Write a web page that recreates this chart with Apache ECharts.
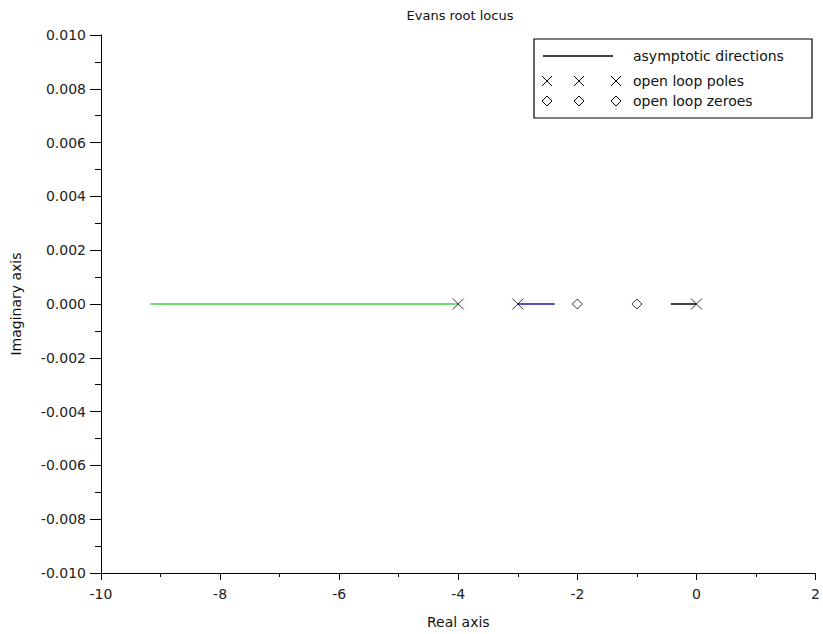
<!DOCTYPE html>
<html><head><meta charset="utf-8">
<script src="https://cdn.jsdelivr.net/npm/echarts@6/dist/echarts.min.js"></script>
<style>html,body{margin:0;padding:0;background:#fff}#c{width:823px;height:634px}</style>
</head><body><div id="c"></div>
<script>
// Data
const titleText = 'Evans root locus';
const xTicks = [-10, -8, -6, -4, -2, 0, 2];
const yTicks = [-0.010, -0.008, -0.006, -0.004, -0.002, 0.000, 0.002, 0.004, 0.006, 0.008, 0.010];
const branchGreen = [[-9.17, 0], [-4, 0]];
const branchBlue = [[-3, 0], [-2.38, 0]];
const branchBlack = [[-0.43, 0], [0, 0]];
const polesRe = [-4, -3, 0];
const polesIm = [0, 0, 0];
const zerosRe = [-2, -1];
const zerosIm = [0, 0];
const legendLabels = ['asymptotic directions', 'open loop poles', 'open loop zeroes'];

const FONT = 'DejaVu Sans';
const crossPath = 'path://M0,0L10,10M10,0L0,10';
const chart = echarts.init(document.getElementById('c'), null, {renderer: 'svg'});

const legendX = 534, legendY = 39, legendW = 278, legendH = 79;
const rowY = [56, 81, 101];
const markX = [547, 579, 616];
const graphics = [
  {type: 'rect', shape: {x: legendX, y: legendY, width: legendW, height: legendH},
   style: {fill: '#fff', stroke: '#000', lineWidth: 1.2}, z: 10},
  {type: 'line', shape: {x1: 543, y1: rowY[0], x2: 613, y2: rowY[0]}, style: {stroke: '#000', lineWidth: 1.5}, z: 11}
];
legendLabels.forEach((t, i) => {
  graphics.push({type: 'text', x: 633, y: rowY[i], z: 11,
    style: {text: t, font: '14px "' + FONT + '"', fill: '#111', verticalAlign: 'middle'}});
});
markX.forEach(x => {
  const y = rowY[1], d = 5;
  graphics.push({type: 'line', z: 11, shape: {x1: x - d, y1: y - d, x2: x + d, y2: y + d}, style: {stroke: '#000', lineWidth: 1}});
  graphics.push({type: 'line', z: 11, shape: {x1: x + d, y1: y - d, x2: x - d, y2: y + d}, style: {stroke: '#000', lineWidth: 1}});
  const y2 = rowY[2];
  graphics.push({type: 'polygon', z: 11, shape: {points: [[x - d, y2], [x, y2 - d], [x + d, y2], [x, y2 + d]]},
    style: {stroke: '#000', fill: '#fff', lineWidth: 1}});
});

const lineStyleAxis = {color: '#000', width: 1};

chart.setOption({
  animation: false,
  backgroundColor: '#fff',
  title: {text: titleText, left: 455, top: 4, textAlign: 'center',
    textStyle: {fontFamily: FONT, fontSize: 13, fontWeight: 'normal', color: '#111'}},
  grid: {left: 101, right: 2, top: 35, bottom: 56, containLabel: false},
  xAxis: {
    type: 'value', min: xTicks[0], max: xTicks[xTicks.length - 1], interval: 2,
    name: 'Real axis', nameLocation: 'middle', nameGap: 42,
    nameTextStyle: {fontFamily: FONT, fontSize: 14, color: '#111'},
    axisLine: {show: true, onZero: false, lineStyle: lineStyleAxis},
    axisTick: {show: true, length: 7, lineStyle: lineStyleAxis},
    minorTick: {show: true, splitNumber: 2, length: 4, lineStyle: lineStyleAxis},
    splitLine: {show: false},
    axisLabel: {fontFamily: FONT, fontSize: 14, color: '#222', margin: 14, formatter: v => String(Math.round(v))}
  },
  yAxis: {
    type: 'value', min: yTicks[0], max: yTicks[yTicks.length - 1], interval: 0.002,
    name: 'Imaginary axis', nameLocation: 'middle', nameGap: 78, nameRotate: 90,
    nameTextStyle: {fontFamily: FONT, fontSize: 14, color: '#111'},
    axisLine: {show: true, onZero: false, lineStyle: lineStyleAxis},
    axisTick: {show: true, length: 11, lineStyle: lineStyleAxis},
    minorTick: {show: true, splitNumber: 2, length: 6, lineStyle: lineStyleAxis},
    splitLine: {show: false},
    axisLabel: {fontFamily: FONT, fontSize: 14, color: '#222', margin: 15, formatter: v => (Math.abs(v) < 1e-9 ? 0 : v).toFixed(3)}
  },
  graphic: graphics,
  series: [
    {type: 'line', data: branchGreen, symbol: 'none', lineStyle: {color: '#44cc44', width: 1.5}, z: 2},
    {type: 'line', data: branchBlue, symbol: 'none', lineStyle: {color: '#1a1a99', width: 1.5}, z: 2},
    {type: 'line', data: branchBlack, symbol: 'none', lineStyle: {color: '#000', width: 1.5}, z: 2},
    {type: 'scatter', data: polesRe.map((r, i) => [r, polesIm[i]]), symbol: crossPath, symbolSize: 11,
      itemStyle: {color: 'none', borderColor: '#000', borderWidth: 1}, z: 3},
    {type: 'scatter', data: zerosRe.map((r, i) => [r, zerosIm[i]]), symbol: 'diamond', symbolSize: [10, 10],
      itemStyle: {color: 'none', borderColor: '#000', borderWidth: 1}, z: 3}
  ]
});
</script></body></html>
